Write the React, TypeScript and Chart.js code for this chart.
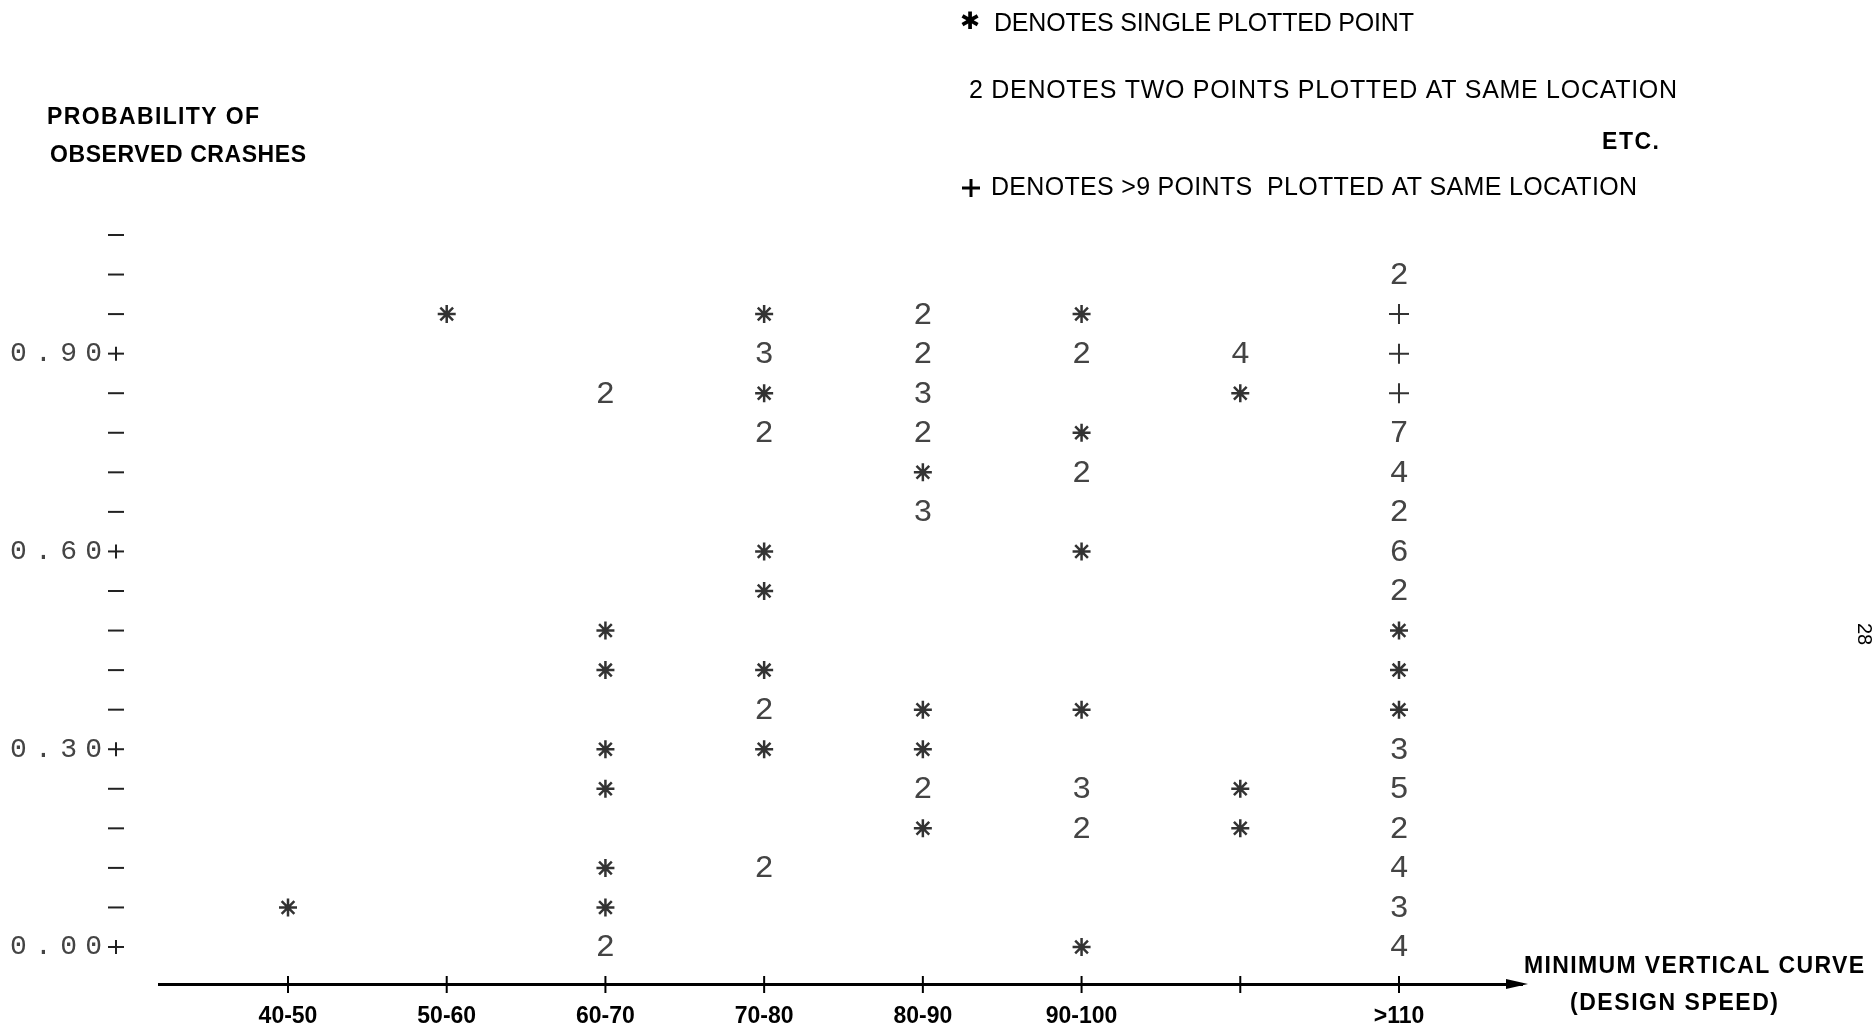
import React, { useEffect, useRef } from "react";
import { Chart, registerables } from "chart.js";

Chart.register(...registerables);

// ---- data ----
const categories = ["40-50", "50-60", "60-70", "70-80", "80-90", "90-100", "100-110", ">110"];
const xTickLabels = ["40-50", "50-60", "60-70", "70-80", "80-90", "90-100", "", ">110"];
const yTickValues = [0, 0.06, 0.12, 0.18, 0.24, 0.3, 0.36, 0.42, 0.48, 0.54, 0.6, 0.66, 0.72, 0.78, 0.84, 0.9, 0.96, 1.02, 1.08];
const yTickLabels = ["0.00", "", "", "", "", "0.30", "", "", "", "", "0.60", "", "", "", "", "0.90", "", "", ""];

// [probability, number of points at that location]; 10 stands for "more than 9"
const pts40_50: [number, number][] = [[0.06, 1]];
const pts50_60: [number, number][] = [[0.96, 1]];
const pts60_70: [number, number][] = [[0.84, 2], [0.48, 1], [0.42, 1], [0.3, 1], [0.24, 1], [0.12, 1], [0.06, 1], [0.0, 2]];
const pts70_80: [number, number][] = [[0.96, 1], [0.9, 3], [0.84, 1], [0.78, 2], [0.6, 1], [0.54, 1], [0.42, 1], [0.36, 2], [0.3, 1], [0.12, 2]];
const pts80_90: [number, number][] = [[0.96, 2], [0.9, 2], [0.84, 3], [0.78, 2], [0.72, 1], [0.66, 3], [0.36, 1], [0.3, 1], [0.24, 2], [0.18, 1]];
const pts90_100: [number, number][] = [[0.96, 1], [0.9, 2], [0.78, 1], [0.72, 2], [0.6, 1], [0.36, 1], [0.24, 3], [0.18, 2], [0.0, 1]];
const pts100_110: [number, number][] = [[0.9, 4], [0.84, 1], [0.24, 1], [0.18, 1]];
const ptsOver110: [number, number][] = [[1.02, 2], [0.96, 10], [0.9, 10], [0.84, 10], [0.78, 7], [0.72, 4], [0.66, 2], [0.6, 6], [0.54, 2], [0.48, 1], [0.42, 1], [0.36, 1], [0.3, 3], [0.24, 5], [0.18, 2], [0.12, 4], [0.06, 3], [0.0, 4]];

const columns = [pts40_50, pts50_60, pts60_70, pts70_80, pts80_90, pts90_100, pts100_110, ptsOver110];

const SANS = "'Liberation Sans', Arial, Helvetica, sans-serif";
const MONO = "'Liberation Mono', 'DejaVu Sans Mono', monospace";

function fitText(ctx: CanvasRenderingContext2D, text: string, x: number, y: number, width: number, font: string, color: string) {
  ctx.save();
  ctx.font = font;
  ctx.fillStyle = color;
  ctx.textBaseline = "middle";
  ctx.textAlign = "left";
  (ctx as any).letterSpacing = "0px";
  const w = ctx.measureText(text).width;
  const n = text.length;
  const ls = n > 1 ? (width - w) / (n - 1) : 0;
  (ctx as any).letterSpacing = ls + "px";
  ctx.fillText(text, x, y);
  ctx.restore();
}

const decor = {
  id: "decor",
  afterDatasetsDraw(chart: any) {
    const ctx: CanvasRenderingContext2D = chart.ctx;
    const xs = chart.scales.x;
    const ys = chart.scales.y;
    const area = chart.chartArea;
    const axisY = area.bottom;

    // multi-count digits
    const meta = chart.getDatasetMeta(1);
    const ds = chart.data.datasets[1].data as any[];
    ctx.save();
    ctx.font = `32px ${MONO}`;
    ctx.fillStyle = "#444";
    ctx.textAlign = "center";
    ctx.textBaseline = "middle";
    meta.data.forEach((el: any, i: number) => {
      ctx.fillText(String(ds[i].n), el.x, el.y + 1);
    });
    ctx.restore();

    // x-axis ticks crossing the axis + arrowhead
    ctx.save();
    ctx.strokeStyle = "#000";
    ctx.lineWidth = 2;
    categories.forEach((_, i) => {
      const px = xs.getPixelForValue(i);
      ctx.beginPath();
      ctx.moveTo(px, axisY - 8);
      ctx.lineTo(px, axisY + 9);
      ctx.stroke();
    });
    ctx.fillStyle = "#000";
    ctx.beginPath();
    ctx.moveTo(area.right - 16, axisY - 5);
    ctx.lineTo(area.right + 6, axisY);
    ctx.lineTo(area.right - 16, axisY + 5);
    ctx.closePath();
    ctx.fill();
    ctx.restore();

    // y-axis dashes and labels
    ctx.save();
    ctx.strokeStyle = "#222";
    ctx.lineWidth = 2;
    yTickValues.forEach((v, i) => {
      const py = ys.getPixelForValue(v);
      ctx.beginPath();
      ctx.moveTo(108, py);
      ctx.lineTo(124, py);
      ctx.stroke();
      if (yTickLabels[i]) {
        ctx.beginPath();
        ctx.moveTo(116, py - 7);
        ctx.lineTo(116, py + 7);
        ctx.stroke();
        fitText(ctx, yTickLabels[i], 10, py, 92, `28px ${MONO}`, "#444");
      }
    });
    ctx.restore();

    // texts
    fitText(ctx, "PROBABILITY OF", 47, 118, 212, `bold 23px ${SANS}`, "#000");
    fitText(ctx, "OBSERVED CRASHES", 50, 156, 256, `bold 23px ${SANS}`, "#000");

    ctx.save();
    ctx.font = `bold 24px 'DejaVu Sans', sans-serif`;
    ctx.fillStyle = "#000";
    ctx.textBaseline = "middle";
    ctx.fillText("\u2731", 960, 23);
    ctx.restore();
    fitText(ctx, "DENOTES SINGLE PLOTTED POINT", 994, 24, 420, `25px ${SANS}`, "#000");
    fitText(ctx, "2 DENOTES TWO POINTS PLOTTED AT SAME LOCATION", 969, 91, 708, `25px ${SANS}`, "#000");
    fitText(ctx, "ETC.", 1602, 143, 57, `bold 23px ${SANS}`, "#000");
    ctx.save();
    ctx.strokeStyle = "#000";
    ctx.lineWidth = 3;
    ctx.beginPath();
    ctx.moveTo(962, 188);
    ctx.lineTo(980, 188);
    ctx.moveTo(971, 179);
    ctx.lineTo(971, 197);
    ctx.stroke();
    ctx.restore();
    fitText(ctx, "DENOTES >9 POINTS  PLOTTED AT SAME LOCATION", 991, 188, 646, `25px ${SANS}`, "#000");

    fitText(ctx, "MINIMUM VERTICAL CURVE", 1524, 967, 340, `bold 23px ${SANS}`, "#000");
    fitText(ctx, "(DESIGN SPEED)", 1570, 1004, 208, `bold 23px ${SANS}`, "#000");

    ctx.save();
    ctx.translate(1864, 634);
    ctx.rotate(Math.PI / 2);
    ctx.font = `20px ${SANS}`;
    ctx.fillStyle = "#000";
    ctx.textAlign = "center";
    ctx.textBaseline = "middle";
    ctx.fillText("28", 0, 0);
    ctx.restore();
  },
};

export default function App() {
  const ref = useRef<HTMLCanvasElement | null>(null);

  useEffect(() => {
    document.body.style.margin = "0";
    document.body.style.overflow = "hidden";
    const singles: any[] = [];
    const multiples: any[] = [];
    const overflow: any[] = [];
    columns.forEach((col, i) => {
      col.forEach(([p, n]) => {
        const pt = { x: i, y: p, n };
        if (n === 1) singles.push(pt);
        else if (n >= 10) overflow.push(pt);
        else multiples.push(pt);
      });
    });

    const chart = new Chart(ref.current as HTMLCanvasElement, {
      type: "scatter",
      data: {
        datasets: [
          {
            label: "single point",
            data: singles,
            pointStyle: "star",
            pointRadius: 9,
            borderWidth: 2.5,
            borderColor: "#333",
            backgroundColor: "#333",
          },
          {
            label: "multiple points",
            data: multiples,
            pointRadius: 0,
            borderWidth: 0,
          },
          {
            label: ">9 points",
            data: overflow,
            pointStyle: "cross",
            pointRadius: 10,
            borderWidth: 2,
            borderColor: "#333",
          },
        ],
      } as any,
      plugins: [decor],
      options: {
        responsive: false,
        animation: false,
        devicePixelRatio: 1,
        layout: { padding: { left: 159, right: 350, top: 215, bottom: 0 } },
        plugins: { legend: { display: false }, tooltip: { enabled: false } },
        scales: {
          x: {
            type: "linear",
            min: -0.8128,
            max: 7.775,
            grid: { display: false },
            border: { display: true, color: "#000", width: 3 },
            afterBuildTicks: (s: any) => {
              s.ticks = xTickLabels.map((_, i) => ({ value: i }));
            },
            afterFit: (s: any) => {
              s.height = 45;
            },
            ticks: {
              autoSkip: false,
              maxRotation: 0,
              minRotation: 0,
              padding: 11,
              color: "#000",
              font: { family: SANS, size: 23, weight: "bold" },
              callback: (v: any) => xTickLabels[v as number] ?? "",
            },
          },
          y: {
            type: "linear",
            display: false,
            min: -0.0561,
            max: 1.1103,
          },
        },
      } as any,
    });
    return () => chart.destroy();
  }, []);

  return <canvas ref={ref} width={1872} height={1029} style={{ display: "block" }} />;
}
